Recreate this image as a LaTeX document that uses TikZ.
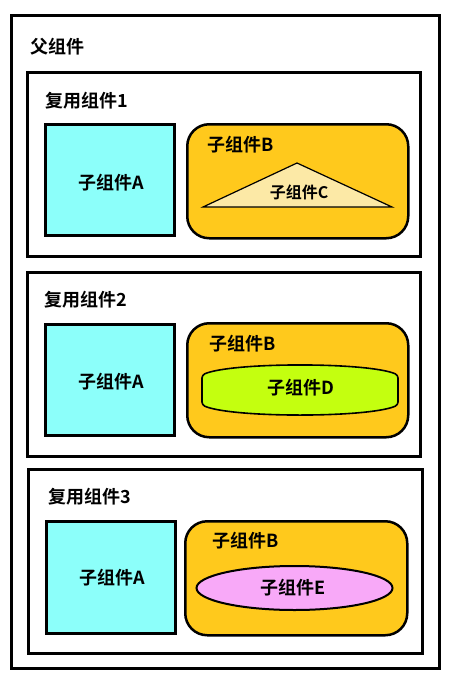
\documentclass[tikz,border=0pt]{standalone}
\usepackage{fontspec}
\setmainfont{Noto Sans CJK SC}[BoldFont={Noto Sans CJK SC Bold}]
\usetikzlibrary{shapes.geometric}
\definecolor{cyanA}{HTML}{8CFFFA}
\definecolor{orangeB}{HTML}{FFC91C}
\definecolor{paleC}{HTML}{FCE9A6}
\definecolor{limeD}{HTML}{C4FF0F}
\definecolor{pinkE}{HTML}{F8A9F8}
\begin{document}
\begin{tikzpicture}[x=1pt,y=-1pt,
  frame/.style={draw=black,line width=3pt,fill=white,anchor=north west,inner sep=0pt},
  boxA/.style={draw=black,line width=3pt,fill=cyanA,anchor=north west,inner sep=0pt},
  boxB/.style={draw=black,line width=2.5pt,fill=orangeB,rounded corners=22pt,anchor=north west,inner sep=0pt},
  lbl/.style={font=\bfseries\fontsize{18}{21}\selectfont,inner sep=0pt},
  small/.style={font=\bfseries\fontsize{16}{19}\selectfont,inner sep=0pt}]
\useasboundingbox (0,0) rectangle (453,680);
\fill[white] (0,0) rectangle (453,680);
% outer
\node[frame,minimum width=428pt,minimum height=653pt] (outer) at (10,14) {};
\node[lbl,anchor=west] (tparent) at (30,47) {父组件};
% reuse 1
\node[frame,minimum width=393pt,minimum height=184pt] (r1) at (26,71) {};
\node[lbl,anchor=west] (t1) at (45,101) {复用组件1};
\node[boxA,minimum width=129pt,minimum height=111pt] (a1) at (44,123) {};
\node[lbl] (ta1) at (111,183) {子组件A};
\node[boxB,minimum width=221pt,minimum height=114pt] (b1) at (186,123) {};
\node[lbl,anchor=west] (tb1) at (207,145) {子组件B};
\draw[line width=1.2pt,fill=paleC,line join=miter] (297,163) -- (392,207) -- (203,207) -- cycle;
\node[small] (tc) at (299,192) {子组件C};
% reuse 2
\node[frame,minimum width=393pt,minimum height=184pt] (r2) at (26,271) {};
\node[lbl,anchor=west] (t2) at (44,300) {复用组件2};
\node[boxA,minimum width=129pt,minimum height=111pt] (a2) at (44,323) {};
\node[lbl] (ta2) at (111,382) {子组件A};
\node[boxB,minimum width=221pt,minimum height=114pt] (b2) at (186,322) {};
\node[lbl,anchor=west] (tb2) at (209,344) {子组件B};
\draw[line width=1.6pt,fill=limeD,rounded corners=3pt]
  (202,375) .. controls (232,362) and (368,362) .. (398,375)
  -- (398,405) .. controls (368,418) and (232,418) .. (202,405) -- cycle;
\node[lbl] (td) at (301,388) {子组件D};
% reuse 3
\node[frame,minimum width=394pt,minimum height=184pt] (r3) at (27,468) {};
\node[lbl,anchor=west] (t3) at (48,497) {复用组件3};
\node[boxA,minimum width=129pt,minimum height=112pt] (a3) at (45,520) {};
\node[lbl] (ta3) at (112,578) {子组件A};
\node[boxB,minimum width=222pt,minimum height=114pt] (b3) at (184,520) {};
\node[lbl,anchor=west] (tb3) at (212,541) {子组件B};
\node[ellipse,draw=black,line width=2pt,fill=pinkE,minimum width=196pt,minimum height=44pt,inner sep=0pt] (e) at (294.5,588) {};
\node[lbl] (te) at (293,588) {子组件E};
\end{tikzpicture}
\end{document}
